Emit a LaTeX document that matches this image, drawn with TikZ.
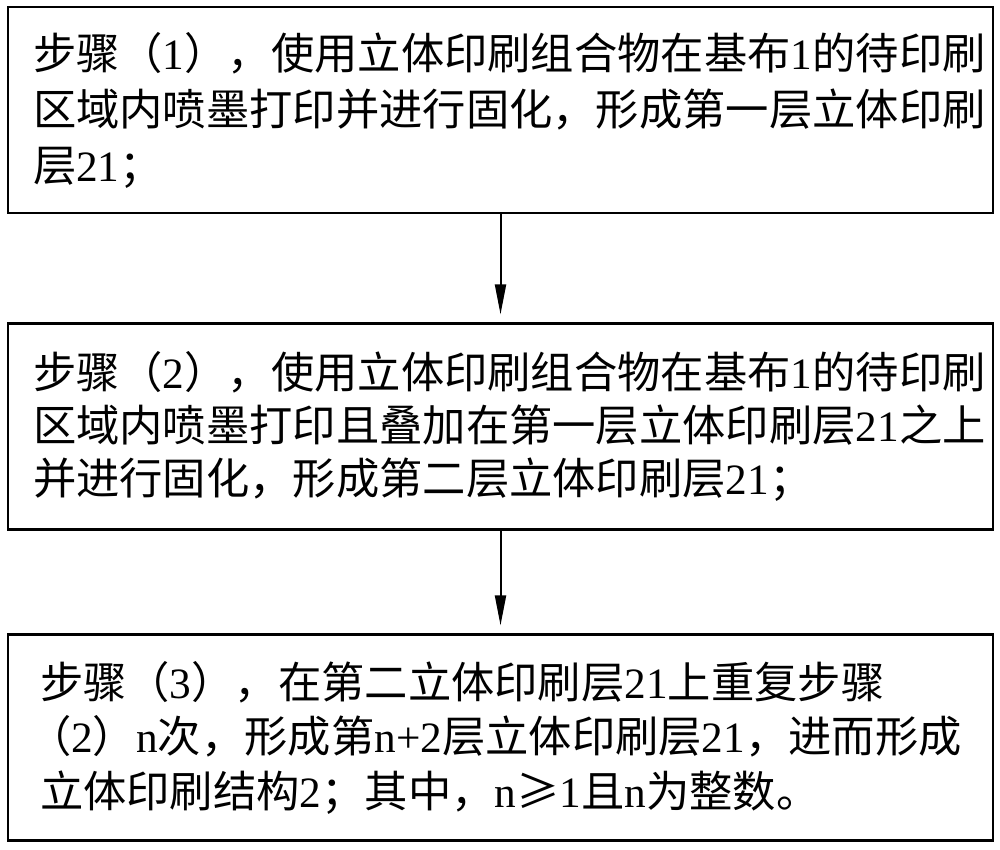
\documentclass[tikz,border=0pt]{standalone}
\usepackage{fontspec}
\setmainfont{Noto Sans CJK SC}
\newfontfamily\lat{Liberation Serif}
\newcommand\La[1]{{\lat #1}}
\usetikzlibrary{arrows.meta}
\begin{document}
\begin{tikzpicture}[x=1pt,y=-1pt,
  stepbox/.style={draw=black, line width=2.2pt, rectangle, minimum width=985pt,
    minimum height=206pt, align=left, inner ysep=0pt},
  flow/.style={draw=black, line width=2pt, -{Triangle[length=30pt,width=11pt]}, shorten >=8pt}]
\useasboundingbox (0,0) rectangle (1000,849);
\node[stepbox, text width=935pt, inner xsep=25pt, font=\fontsize{43.3pt}{56pt}\selectfont] (s1) at (500.5,110)
 {步骤（\La{1}），使用立体印刷组合物在基布\La{1}的待印刷\\
  区域内喷墨打印并进行固化，形成第一层立体印刷\\
  层\La{21}；};
\node[stepbox, text width=935pt, inner xsep=25pt, font=\fontsize{43.3pt}{53pt}\selectfont] (s2) at (500.5,426.5)
 {步骤（\La{2}），使用立体印刷组合物在基布\La{1}的待印刷\\
  区域内喷墨打印且叠加在第一层立体印刷层\La{21}之上\\
  并进行固化，形成第二层立体印刷层\La{21}；};
\node[stepbox, text width=921pt, inner xsep=32pt, font=\fontsize{43.3pt}{54.5pt}\selectfont] (s3) at (500.5,737.5)
 {步骤（\La{3}），在第二立体印刷层\La{21}上重复步骤\\
  \hspace*{-12pt}（\La{2}）\La{n}次，形成第\La{n+2}层立体印刷层\La{21}，进而形成\\
  立体印刷结构\La{2}；其中，\La{n}≥\La{1}且\La{n}为整数。};
\draw[flow] (s1.south) -- (s2.north);
\draw[flow] (s2.south) -- (s3.north);
\end{tikzpicture}
\end{document}
